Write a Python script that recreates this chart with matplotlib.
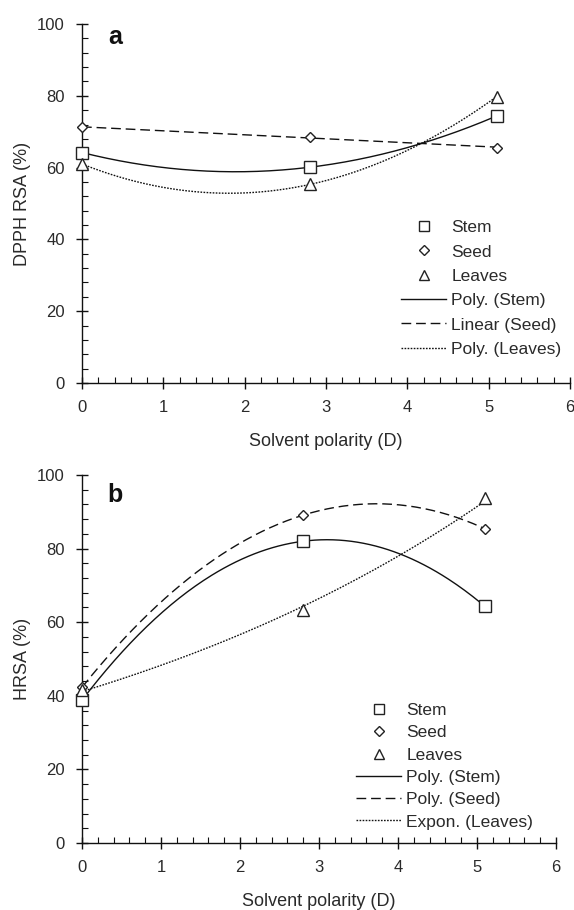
import numpy as np
import matplotlib
matplotlib.use("Agg")
import matplotlib.pyplot as plt
from matplotlib.ticker import MultipleLocator
from matplotlib.lines import Line2D

plt.rcParams['font.family'] = ['Liberation Sans', 'DejaVu Sans']

# ---- data ----
polarity = [0.0, 2.8, 5.1]
dpph_stem = [64.2, 60.1, 74.4]
dpph_seed = [71.2, 68.6, 65.5]
dpph_leaves = [61.0, 55.3, 79.8]
hrsa_stem = [38.8, 82.0, 64.3]
hrsa_seed = [42.3, 89.1, 85.4]
hrsa_leaves = [41.5, 63.2, 93.8]

labels_a = ["Stem", "Seed", "Leaves", "Poly. (Stem)", "Linear (Seed)", "Poly. (Leaves)"]
labels_b = ["Stem", "Seed", "Leaves", "Poly. (Stem)", "Poly. (Seed)", "Expon. (Leaves)"]

W, H = 574, 910
fig = plt.figure(figsize=(W / 100, H / 100), dpi=100)

def px_axes(l, r, t, b):
    return fig.add_axes([l / W, 1 - b / H, (r - l) / W, (b - t) / H])

ax1 = px_axes(82, 570, 24, 383)
ax2 = px_axes(82, 556, 475, 843)

dash_style = (0, (7, 3.5))
dot_style = (0, (1.2, 1.0))
lc = '#111111'
tc = '#2a2a2a'

def fit_poly(x, y, deg):
    return np.poly1d(np.polyfit(x, y, deg))

def style_axes(ax, ylabel):
    for s in ['top', 'right']:
        ax.spines[s].set_visible(False)
    for s in ['left', 'bottom']:
        ax.spines[s].set_linewidth(1.0)
        ax.spines[s].set_color(lc)
    ax.set_xlim(0, 6)
    ax.set_ylim(0, 100)
    ax.xaxis.set_major_locator(MultipleLocator(1))
    ax.xaxis.set_minor_locator(MultipleLocator(0.2))
    ax.yaxis.set_major_locator(MultipleLocator(20))
    ax.yaxis.set_minor_locator(MultipleLocator(4))
    ax.tick_params(which='major', direction='inout', length=9, width=1.0, labelsize=12,
                   color=lc, labelcolor=tc, pad=8)
    ax.tick_params(which='minor', direction='in', length=4, width=0.8, color=lc)
    ax.set_xlabel("Solvent polarity (D)", fontsize=13, labelpad=13, color=tc)
    ax.set_ylabel(ylabel, fontsize=13, labelpad=4, color=tc)

def draw(ax, ys, fits, styles, labels, legend_xy, spacing):
    xs = np.linspace(polarity[0], polarity[-1], 200)
    markers = ['s', 'D', '^']
    msizes = [8, 5.5, 8]
    handles = []
    for y, m, ms in zip(ys, markers, msizes):
        ax.plot(polarity, y, linestyle='none', marker=m, ms=ms, mfc='white', mec='#222222',
                mew=1.0, zorder=5, clip_on=False)
        handles.append(Line2D([], [], linestyle='none', marker=m, ms=ms * 0.85, mfc='white',
                              mec='#222222', mew=1.0))
    for f, st in zip(fits, styles):
        ax.plot(xs, f(xs), color=lc, lw=1.0, linestyle=st, zorder=3)
        handles.append(Line2D([], [], color=lc, lw=1.0, linestyle=st))
    leg = ax.legend(handles, labels, loc='upper left', bbox_to_anchor=legend_xy, frameon=False,
                    fontsize=12.5, handlelength=2.6, handletextpad=0.3, labelspacing=spacing,
                    borderaxespad=0, borderpad=0)
    for t in leg.get_texts():
        t.set_color(tc)

# panel a
fa = [fit_poly(polarity, dpph_stem, 2), fit_poly(polarity, dpph_seed, 1), fit_poly(polarity, dpph_leaves, 2)]
draw(ax1, [dpph_stem, dpph_seed, dpph_leaves], fa, ['-', dash_style, dot_style], labels_a,
     ((401 - 82) / 488, 1 - (220 - 24) / 359), 0.53)
style_axes(ax1, "DPPH RSA (%)")
ax1.text(0.32, 94.4, "a", fontsize=18, fontweight='bold', va='baseline', ha='left', color='#111111')

# panel b
bl = np.polyfit(polarity, np.log(hrsa_leaves), 1)
fexp = lambda x: np.exp(bl[1]) * np.exp(bl[0] * x)
fb = [fit_poly(polarity, hrsa_stem, 2), fit_poly(polarity, hrsa_seed, 2), fexp]
draw(ax2, [hrsa_stem, hrsa_seed, hrsa_leaves], fb, ['-', dash_style, dot_style], labels_b,
     ((356 - 82) / 474, 1 - (703 - 475) / 368), 0.41)
style_axes(ax2, "HRSA (%)")
ax2.text(0.32, 92.6, "b", fontsize=18, fontweight='bold', va='baseline', ha='left', color='#111111')

fig.savefig("out.png", dpi=100, facecolor='white')
